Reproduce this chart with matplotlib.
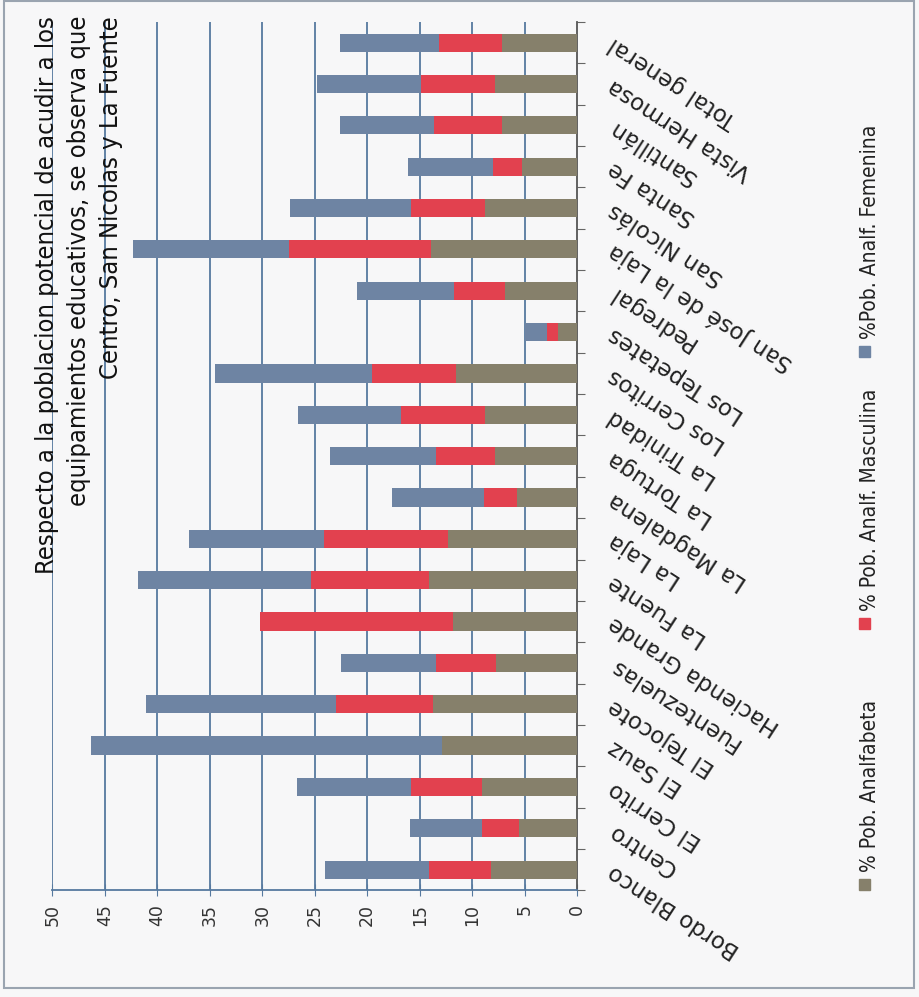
import numpy as np
import matplotlib
matplotlib.use('Agg')
import matplotlib.pyplot as plt
from matplotlib import font_manager
from matplotlib.patches import Rectangle

# categorias (de izquierda a derecha en la grafica original)
localidades = ['Bordo Blanco', 'Centro', 'El Cerrito', 'El Sauz', 'El Tejocote',
               'Fuentezuelas', 'Hacienda Grande', 'La Fuente', 'La Laja',
               'La Magdalena', 'La Tortuga', 'La Trinidad', 'Los Cerritos',
               'Los Tepetates', 'Pedregal', 'San José de la Laja', 'San Nicolás',
               'Santa Fe', 'Santillán', 'Vista Hermosa', 'Total general']

# % Pob. Analfabeta
analfabeta = [8.2, 5.5, 9.1, 12.9, 13.7, 7.7, 11.8, 14.1, 12.3, 5.7, 7.8,
              8.8, 11.5, 1.8, 6.9, 13.9, 8.8, 5.3, 7.2, 7.8, 7.2]
# % Pob. Analf. Masculina
masculina = [5.9, 3.6, 6.7, 0.0, 9.3, 5.7, 18.4, 11.3, 11.8, 3.2, 5.6,
             8.0, 8.0, 1.1, 4.8, 13.6, 7.0, 2.7, 6.4, 7.1, 6.0]
# %Pob. Analf. Femenina
femenina = [9.9, 6.8, 10.9, 33.4, 18.1, 9.1, 0.0, 16.4, 12.9, 8.7, 10.1,
            9.8, 15.0, 2.1, 9.3, 14.8, 11.6, 8.1, 9.0, 9.9, 9.4]

ticks_val = [0, 5, 10, 15, 20, 25, 30, 35, 40, 45, 50]

col_analf = '#86806b'
col_masc = '#e2414f'
col_fem = '#6e84a3'
col_grid = '#56799f'
fondo = '#f7f7f8'

titulo = ('Respecto a la poblacion potencial de acudir a los\n'
          'equipamientos educativos, se observa que\n'
          'Centro, San Nicolas y La Fuente')

plt.rcParams['font.family'] = ['DejaVu Sans']

# fuente angosta para titulo y leyenda, si existe
fp = font_manager.FontProperties(family='DejaVu Sans', stretch='condensed')
angosta = 'Condensed' in font_manager.findfont(fp)
if angosta:
    tit_kw = dict(family='DejaVu Sans', stretch='condensed', fontsize=18.3)
    ley_kw = dict(family='DejaVu Sans', stretch='condensed', fontsize=15)
    tit_ls = 1.4
else:
    tit_kw = dict(family='DejaVu Sans', fontsize=16)
    ley_kw = dict(family='DejaVu Sans', fontsize=12.5)
    tit_ls = 1.6

fig = plt.figure(figsize=(9.19, 9.97), dpi=100, facecolor=fondo)
ax = fig.add_axes([0.057, 0.107, 0.571, 0.871])
ax.set_facecolor(fondo)

y = np.arange(len(localidades))
a = np.array(analfabeta)
m = np.array(masculina)
f = np.array(femenina)

ax.barh(y, a, height=0.44, color=col_analf, zorder=3)
ax.barh(y, m, left=a, height=0.44, color=col_masc, zorder=3)
ax.barh(y, f, left=a + m, height=0.44, color=col_fem, zorder=3)

ax.set_xlim(50, 0)
ax.set_ylim(-0.5, len(localidades) - 0.5)

ax.set_xticks(ticks_val)
ax.set_xticklabels([str(t) for t in ticks_val], rotation=90, fontsize=12.5,
                   color='#333333')
ax.tick_params(axis='x', direction='inout', length=8, color=col_grid, pad=6)
for t in ticks_val[1:]:
    ax.axvline(t, color=col_grid, lw=1.3, zorder=1)

# eje de categorias a la derecha
ax.yaxis.tick_right()
ax.set_yticks(np.arange(-0.5, len(localidades)), minor=False)
ax.set_yticklabels([])
ax.tick_params(axis='y', which='major', direction='out', length=6, color='#666666')
ax.set_yticks(y, minor=True)
ax.set_yticklabels(localidades, minor=True, rotation=147, fontsize=16.5,
                   ha='right', va='center', rotation_mode='anchor', color='#222222')
ax.tick_params(axis='y', which='minor', length=0, pad=24)

for s in ['top', 'left']:
    ax.spines[s].set_visible(False)
ax.spines['bottom'].set_color(col_grid)
ax.spines['bottom'].set_linewidth(1.3)
ax.spines['right'].set_color('#555555')
ax.spines['right'].set_linewidth(1.3)

# titulo girado
fig.text(0.086, 0.984, titulo, rotation=90, ha='center', va='top',
         multialignment='right', color='#111111', linespacing=tit_ls, **tit_kw)

# leyenda girada a la derecha
leyenda = [('% Pob. Analfabeta', col_analf, 0.113),
           ('% Pob. Analf. Masculina', col_masc, 0.375),
           ('%Pob. Analf. Femenina', col_fem, 0.648)]
for txt, c, yy in leyenda:
    fig.patches.append(Rectangle((0.941 - 0.006, yy - 0.006), 0.012, 0.011,
                                 transform=fig.transFigure, color=c))
    fig.text(0.947, yy + 0.012, txt, rotation=90, ha='center', va='bottom',
             color='#222222', **ley_kw)

fig.patches.append(Rectangle((0.004, 0.009), 0.991, 0.99, transform=fig.transFigure,
                             fill=False, edgecolor='#9aa4b0', lw=1.5))

fig.savefig('out.png', dpi=100, facecolor=fondo)
